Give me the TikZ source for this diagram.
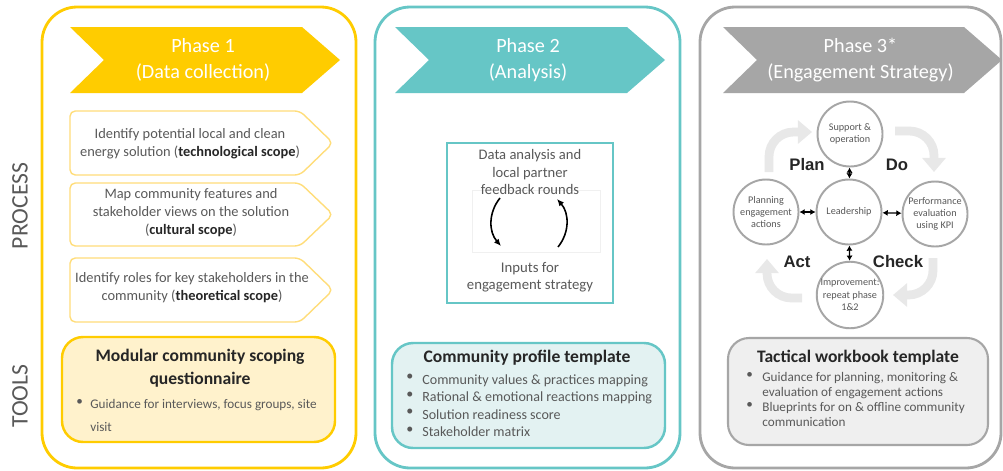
\documentclass[tikz,border=0pt]{standalone}
\usepackage{fontspec}
\setmainfont{Carlito}
\newfontfamily\heavyfont{Liberation Sans}
\usetikzlibrary{arrows.meta,positioning}
\definecolor{Sun}{HTML}{FFCC00}
\definecolor{SunPale}{HTML}{FFDD7A}
\definecolor{SunFill}{HTML}{FFF2CC}
\definecolor{Teal}{HTML}{66C6C6}
\definecolor{TealFill}{HTML}{E3F2F2}
\definecolor{Ash}{HTML}{A6A6A6}
\definecolor{AshFill}{HTML}{EFEFEF}
\definecolor{Ink}{HTML}{595959}
\definecolor{Dark}{HTML}{262626}
\definecolor{Mist}{HTML}{E8E8E8}
\newcommand{\fs}[2]{\fontsize{#1}{#2}\selectfont}
\newcommand{\kw}[1]{\textcolor{Dark}{\textbf{#1}}}

\begin{document}
\begin{tikzpicture}[x=0.02cm,y=-0.02cm,
    panel/.style={rounded corners=20pt,line width=1.6pt,fill=white},
    banner/.style={text=white,align=center,font=\fs{11.5}{14.7}},
    stepbox/.style={rounded corners=3pt,line width=0.8pt,draw=SunPale,fill=white},
    steptxt/.style={align=center,text=Ink,font=\fs{8.2}{10.2}},
    toolbox/.style={rounded corners=12pt,line width=1.4pt},
    tooltitle/.style={font=\bfseries\fs{10}{13},text=Dark,align=center},
    item/.style={anchor=north west,align=left,text=Ink,inner sep=0pt},
    side/.style={rotate=90,text=Ink,font=\fs{13.5}{16}},
    cyc/.style={circle,draw=Ash,line width=1.1pt,fill=white,minimum size=1.3cm,
      inner sep=0pt,align=center,text=Ink,font=\fs{5.8}{7}},
    link/.style={{Latex[length=3pt,width=3.5pt]}-{Latex[length=3pt,width=3.5pt]},line width=0.7pt},
    turn/.style={Mist,line width=5pt,rounded corners=14pt,-{Triangle[length=8pt,width=13pt]}},
    pdca/.style={font=\heavyfont\bfseries\fs{9.5}{11},text=Dark},
    loop/.style={-{Latex[length=4pt,width=3.5pt]},line width=0.9pt}
  ]
  \useasboundingbox (0,0) rectangle (1003,470);

  % row labels
  \node[side] (process) at (20,206) {PROCESS};
  \node[side] (tools) at (20,396) {TOOLS};

  % the three phase columns
  \foreach \xa/\xb/\col in {42/356/Sun,375/680/Teal,700/1001/Ash}
    \draw[panel,draw=\col] (\xa,7) rectangle (\xb,468);

  \foreach \i/\xa/\xb/\col/\head/\sub in {
      1/70/340/Sun/{Phase 1}/{(Data collection)},
      2/395/665/Teal/{Phase 2}/{(Analysis)},
      3/723/1002/Ash/{Phase 3*}/{(Engagement Strategy)}}{
    \fill[\col] (\xa,27) -- ({\xb-38},27) -- (\xb,60) -- ({\xb-38},93)
      -- (\xa,93) -- ({\xa+34},60) -- cycle;
    \node[banner] (phase\i) at ({(\xa+\xb)/2-2},60) {\head\\\sub};
  }

  % phase 1: scoping steps
  \foreach \ya/\yb in {111/175,183/246,258/322}
    \draw[stepbox] (70,\ya) -- (300,\ya) -- (333,{(\ya+\yb)/2}) -- (300,\yb)
      -- (70,\yb) -- cycle;
  \node[steptxt] (tech) at (190,144) {Identify potential local and clean\\
    energy solution (\kw{technological scope})};
  \node[steptxt] (cult) at (191,213) {Map community features and\\
    stakeholder views on the solution\\(\kw{cultural scope})};
  \node[steptxt] (theo) at (192,288) {Identify roles for key stakeholders in the\\
    community (\kw{theoretical scope})};

  \draw[toolbox,draw=Sun,fill=SunFill] (62,337) rectangle (335,442);
  \node[tooltitle] (quest) at (200,368) {Modular community scoping\\questionnaire};
  \node[item,font=\fs{7.5}{13}] (qdot) at (76,399) {\textbullet};
  \node[item,font=\fs{7.5}{13}] (qtxt) at (90,399)
    {Guidance for interviews, focus groups, site\\visit};

  % phase 2: analysis loop
  \draw[Teal,line width=1.5pt] (447,143) rectangle (613,303);
  \draw[black!6,line width=0.4pt] (472,190) rectangle (600,252);
  \node[align=center,text=Ink,font=\fs{8.3}{9.7}] (data) at (530,172)
    {Data analysis and\\local partner\\feedback rounds};
  \node[align=center,text=Ink,font=\fs{8.4}{9.7}] (inputs) at (530,277)
    {Inputs for\\engagement strategy};
  \coordinate (la) at (500,198);
  \coordinate (lb) at (501,246);
  \coordinate (ra) at (558,247);
  \coordinate (rb) at (557,199);
  \draw[loop] (la) to[bend right=40] (lb);
  \draw[loop] (ra) to[bend right=40] (rb);

  \draw[toolbox,draw=Teal,fill=TealFill] (392,343) rectangle (665,448);
  \node[tooltitle] (profile) at (527,358) {Community profile template};
  \node[item,font=\fs{8}{10}] (pdot) at (406,374)
    {\textbullet\\\textbullet\\\textbullet\\\textbullet};
  \node[item,font=\fs{8}{10}] (ptxt) at (422,374)
    {Community values \& practices mapping\\Rational \& emotional reactions mapping\\
     Solution readiness score\\Stakeholder matrix};

  % phase 3: management cycle
  \draw[turn] (769,172) |- (812,132);
  \draw[turn] (895,131) -| (934,172);
  \draw[turn] (933,258) |- (893,295);
  \draw[turn] (802,298) -| (767,259);

  \node[cyc] (sup) at (850,134) {Support \&\\operation};
  \node[cyc] (lead) at (849,212) {Leadership};
  \node[cyc] (plan) at (766,212) {Planning\\engagement\\actions};
  \node[cyc] (perf) at (935,214) {Performance\\evaluation\\using KPI};
  \node[cyc] (impr) at (850,295) {Improvement:\\repeat phase\\1\&2};
  \draw[link] (sup) -- (lead);
  \draw[link] (lead) -- (impr);
  \draw[link] (plan) -- (lead);
  \draw[link] (lead) -- (perf);

  \node[pdca] (pl) at (807,165) {Plan};
  \node[pdca] (do) at (897,165) {Do};
  \node[pdca] (act) at (797,262) {Act};
  \node[pdca] (chk) at (898,262) {Check};

  \draw[toolbox,draw=Ash,line width=1.2pt,fill=AshFill] (728,338) rectangle (988,445);
  \node[tooltitle] (workbook) at (858,358) {Tactical workbook template};
  \node[item,font=\fs{7.5}{8.5}] (wdot) at (746,372)
    {\textbullet\\\mbox{}\\\textbullet};
  \node[item,font=\fs{7.5}{8.5}] (wtxt) at (762,372)
    {Guidance for planning, monitoring \&\\evaluation of engagement actions\\
     Blueprints for on \& offline community\\communication};
\end{tikzpicture}
\end{document}
